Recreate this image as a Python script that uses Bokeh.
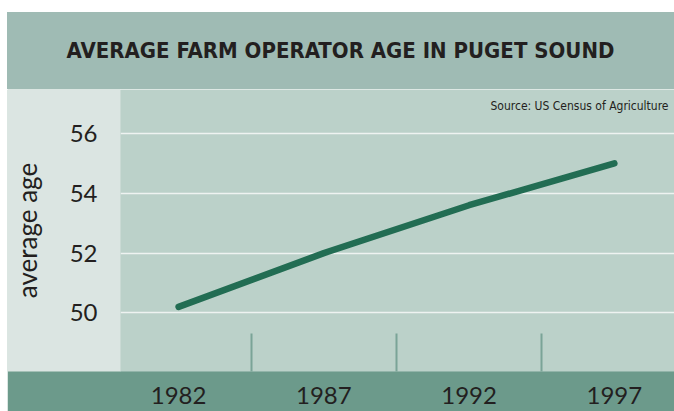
from bokeh.plotting import figure
from bokeh.models import Label, FixedTicker, Range1d, Div
from bokeh.layouts import column
from bokeh.embed import file_html
from bokeh.resources import INLINE

# data
years = [1982, 1987, 1992, 1997]
ages = [50.2, 52.0, 53.6, 55.0]
y_ticks = [50, 52, 54, 56]
title_text = "AVERAGE FARM OPERATOR AGE IN PUGET SOUND"
source_text = "Source: US Census of Agriculture"
y_label = "average age"

W = 667
BOTTOM = 40
FRAME_H = 282

title = Div(
    text=(f'<div style="width:{W}px;height:77px;line-height:78px;text-align:center;'
          f'font-family:\'DejaVu Sans Condensed\';font-stretch:condensed;font-weight:bold;'
          f'font-size:22px;color:#231f20;">{title_text}</div>'),
    width=W, height=77, margin=(12, 0, 0, 7),
    styles={"background-color": "#9fbbb4"})

p = figure(width=W, height=FRAME_H + BOTTOM, output_backend="svg", toolbar_location=None,
           x_range=Range1d(1980.0, 1999.07), y_range=Range1d(48.04, 57.47),
           min_border_left=100, min_border_right=0, min_border_top=0,
           min_border_bottom=BOTTOM, border_fill_color="#6c9a8b",
           background_fill_color="#bbd1c9", outline_line_color=None,
           margin=(0, 0, 0, 7))

p.xgrid.grid_line_color = None
p.ygrid.grid_line_color = "#eef3f1"
p.ygrid.grid_line_width = 1.6

p.yaxis.ticker = FixedTicker(ticks=y_ticks)
mids = [(a + b) / 2 for a, b in zip(years[:-1], years[1:])]
p.xaxis.ticker = FixedTicker(ticks=years, minor_ticks=mids)

for ax in (p.xaxis[0], p.yaxis[0]):
    ax.axis_line_color = None
    ax.major_tick_line_color = None
    ax.major_label_text_font = "Lato"
    ax.major_label_text_font_size = "24px"
    ax.major_label_text_color = "#231f20"

p.yaxis.background_fill_color = "#dbe5e2"
p.xaxis.background_fill_color = "#6c9a8b"

p.yaxis.minor_tick_line_color = None
p.yaxis.major_label_standoff = 17
p.yaxis.axis_label = y_label
p.yaxis.axis_label_text_font = "Lato"
p.yaxis.axis_label_text_font_size = "26px"
p.yaxis.axis_label_text_font_style = "normal"
p.yaxis.axis_label_text_color = "#231f20"
p.yaxis.axis_label_standoff = 24

p.xaxis.major_label_standoff = 9
p.xaxis.minor_tick_line_color = "#7aa497"
p.xaxis.minor_tick_line_width = 2
p.xaxis.minor_tick_in = 38
p.xaxis.minor_tick_out = 0

p.line(years, ages, line_width=6.5, color="#226d53", line_cap="round")

p.add_layout(Label(x=W - 6, y=16, x_units="canvas", y_units="canvas",
                   text=source_text, text_align="right", text_baseline="middle",
                   text_font="DejaVu Sans Condensed",
                   text_font_size="12px", text_color="#231f20"))

layout = column(title, p)
open("out.html", "w").write(file_html(layout, INLINE))
